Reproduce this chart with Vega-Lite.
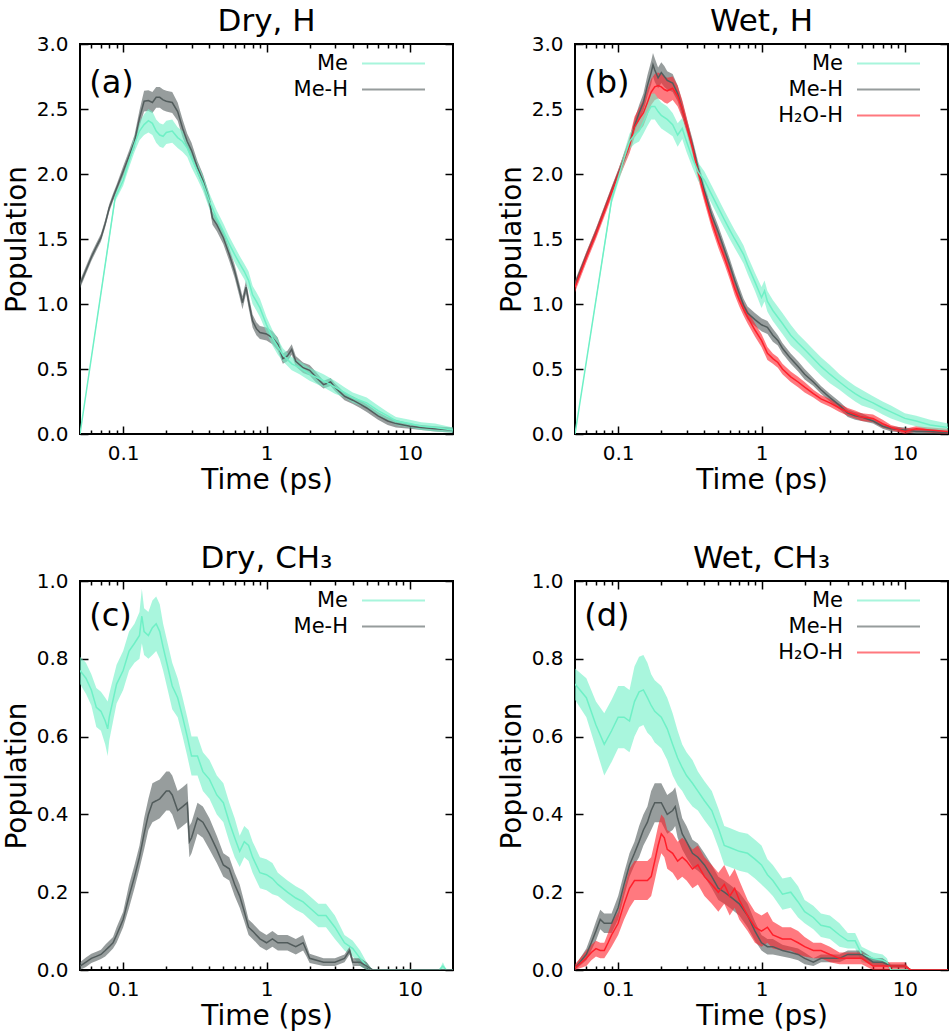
{
  "$schema": "https://vega.github.io/schema/vega-lite/v6.json",
  "padding": {"left": 2, "top": 5, "right": 0, "bottom": 0},
  "config": {
    "font": "DejaVu Sans",
    "view": {"stroke": "black", "strokeWidth": 2},
    "axis": {
      "domain": false, "grid": false, "labelFont": "DejaVu Sans", "labelFontSize": 20, "labelColor": "black",
      "titleFont": "DejaVu Sans", "titleFontSize": 28, "titleFontWeight": "normal", "titleColor": "black",
      "tickColor": "black", "tickWidth": 1.5, "labelOverlap": false, "labelFlush": false
    },
    "title": {"font": "DejaVu Sans", "fontSize": 31, "fontWeight": "normal", "color": "black", "offset": -4},
    "legend": {
      "orient": "top-right", "offset": 8, "padding": 0, "labelFont": "DejaVu Sans", "labelFontSize": 21,
      "labelColor": "black", "symbolType": "M-3,0H3M4.5,0", "symbolSize": 441, "symbolStrokeWidth": 2,
      "labelAlign": "right", "labelOffset": -57, "rowPadding": 4
    }
  },
  "datasets": {
    "pop": [
      {"p":"a","s":"Me-H","t":0.05,"y":1.15,"lo":1.12,"hi":1.18},
      {"p":"a","s":"Me-H","t":0.055,"y":1.26,"lo":1.23,"hi":1.29},
      {"p":"a","s":"Me-H","t":0.06,"y":1.36,"lo":1.33,"hi":1.39},
      {"p":"a","s":"Me-H","t":0.065,"y":1.44,"lo":1.41,"hi":1.47},
      {"p":"a","s":"Me-H","t":0.07,"y":1.51,"lo":1.48,"hi":1.54},
      {"p":"a","s":"Me-H","t":0.075,"y":1.62,"lo":1.59,"hi":1.65},
      {"p":"a","s":"Me-H","t":0.08,"y":1.74,"lo":1.71,"hi":1.77},
      {"p":"a","s":"Me-H","t":0.085,"y":1.82,"lo":1.79,"hi":1.85},
      {"p":"a","s":"Me-H","t":0.09,"y":1.89,"lo":1.86,"hi":1.92},
      {"p":"a","s":"Me-H","t":0.1,"y":2.02,"lo":1.98,"hi":2.06},
      {"p":"a","s":"Me-H","t":0.11,"y":2.14,"lo":2.10,"hi":2.18},
      {"p":"a","s":"Me-H","t":0.12,"y":2.25,"lo":2.20,"hi":2.30},
      {"p":"a","s":"Me-H","t":0.13,"y":2.43,"lo":2.37,"hi":2.49},
      {"p":"a","s":"Me-H","t":0.14,"y":2.56,"lo":2.48,"hi":2.64},
      {"p":"a","s":"Me-H","t":0.15,"y":2.565,"lo":2.485,"hi":2.645},
      {"p":"a","s":"Me-H","t":0.16,"y":2.55,"lo":2.47,"hi":2.63},
      {"p":"a","s":"Me-H","t":0.17,"y":2.59,"lo":2.51,"hi":2.67},
      {"p":"a","s":"Me-H","t":0.18,"y":2.59,"lo":2.51,"hi":2.67},
      {"p":"a","s":"Me-H","t":0.19,"y":2.57,"lo":2.49,"hi":2.65},
      {"p":"a","s":"Me-H","t":0.2,"y":2.56,"lo":2.48,"hi":2.64},
      {"p":"a","s":"Me-H","t":0.22,"y":2.55,"lo":2.47,"hi":2.63},
      {"p":"a","s":"Me-H","t":0.24,"y":2.48,"lo":2.41,"hi":2.55},
      {"p":"a","s":"Me-H","t":0.26,"y":2.35,"lo":2.28,"hi":2.42},
      {"p":"a","s":"Me-H","t":0.28,"y":2.25,"lo":2.19,"hi":2.31},
      {"p":"a","s":"Me-H","t":0.3,"y":2.18,"lo":2.12,"hi":2.24},
      {"p":"a","s":"Me-H","t":0.33,"y":2.05,"lo":2.00,"hi":2.10},
      {"p":"a","s":"Me-H","t":0.36,"y":1.95,"lo":1.90,"hi":2.00},
      {"p":"a","s":"Me-H","t":0.4,"y":1.79,"lo":1.74,"hi":1.84},
      {"p":"a","s":"Me-H","t":0.42,"y":1.66,"lo":1.61,"hi":1.71},
      {"p":"a","s":"Me-H","t":0.45,"y":1.61,"lo":1.56,"hi":1.66},
      {"p":"a","s":"Me-H","t":0.5,"y":1.51,"lo":1.46,"hi":1.56},
      {"p":"a","s":"Me-H","t":0.55,"y":1.38,"lo":1.33,"hi":1.43},
      {"p":"a","s":"Me-H","t":0.6,"y":1.25,"lo":1.20,"hi":1.30},
      {"p":"a","s":"Me-H","t":0.65,"y":1.10,"lo":1.05,"hi":1.15},
      {"p":"a","s":"Me-H","t":0.68,"y":1.01,"lo":0.96,"hi":1.06},
      {"p":"a","s":"Me-H","t":0.72,"y":1.13,"lo":1.08,"hi":1.18},
      {"p":"a","s":"Me-H","t":0.75,"y":1.02,"lo":0.97,"hi":1.07},
      {"p":"a","s":"Me-H","t":0.8,"y":0.87,"lo":0.82,"hi":0.92},
      {"p":"a","s":"Me-H","t":0.85,"y":0.81,"lo":0.76,"hi":0.86},
      {"p":"a","s":"Me-H","t":0.9,"y":0.78,"lo":0.73,"hi":0.83},
      {"p":"a","s":"Me-H","t":1.0,"y":0.77,"lo":0.72,"hi":0.82},
      {"p":"a","s":"Me-H","t":1.1,"y":0.74,"lo":0.69,"hi":0.79},
      {"p":"a","s":"Me-H","t":1.2,"y":0.69,"lo":0.64,"hi":0.74},
      {"p":"a","s":"Me-H","t":1.3,"y":0.58,"lo":0.54,"hi":0.62},
      {"p":"a","s":"Me-H","t":1.4,"y":0.60,"lo":0.56,"hi":0.64},
      {"p":"a","s":"Me-H","t":1.5,"y":0.65,"lo":0.61,"hi":0.69},
      {"p":"a","s":"Me-H","t":1.6,"y":0.56,"lo":0.52,"hi":0.60},
      {"p":"a","s":"Me-H","t":1.8,"y":0.51,"lo":0.47,"hi":0.55},
      {"p":"a","s":"Me-H","t":2.0,"y":0.49,"lo":0.45,"hi":0.53},
      {"p":"a","s":"Me-H","t":2.2,"y":0.44,"lo":0.40,"hi":0.48},
      {"p":"a","s":"Me-H","t":2.5,"y":0.38,"lo":0.35,"hi":0.41},
      {"p":"a","s":"Me-H","t":2.8,"y":0.40,"lo":0.37,"hi":0.43},
      {"p":"a","s":"Me-H","t":3.0,"y":0.36,"lo":0.33,"hi":0.39},
      {"p":"a","s":"Me-H","t":3.5,"y":0.29,"lo":0.26,"hi":0.32},
      {"p":"a","s":"Me-H","t":4.0,"y":0.26,"lo":0.23,"hi":0.29},
      {"p":"a","s":"Me-H","t":4.5,"y":0.23,"lo":0.20,"hi":0.26},
      {"p":"a","s":"Me-H","t":5.0,"y":0.20,"lo":0.17,"hi":0.23},
      {"p":"a","s":"Me-H","t":6.0,"y":0.14,"lo":0.11,"hi":0.17},
      {"p":"a","s":"Me-H","t":7.0,"y":0.10,"lo":0.07,"hi":0.13},
      {"p":"a","s":"Me-H","t":8.0,"y":0.08,"lo":0.05,"hi":0.11},
      {"p":"a","s":"Me-H","t":10,"y":0.06,"lo":0.04,"hi":0.08},
      {"p":"a","s":"Me-H","t":12,"y":0.05,"lo":0.03,"hi":0.07},
      {"p":"a","s":"Me-H","t":15,"y":0.04,"lo":0.02,"hi":0.06},
      {"p":"a","s":"Me-H","t":20,"y":0.03,"lo":0.01,"hi":0.05},

      {"p":"a","s":"Me","t":0.05,"y":0,"lo":0,"hi":0},
      {"p":"a","s":"Me","t":0.088,"y":1.82,"lo":1.79,"hi":1.85},
      {"p":"a","s":"Me","t":0.1,"y":1.95,"lo":1.91,"hi":1.99},
      {"p":"a","s":"Me","t":0.11,"y":2.10,"lo":2.05,"hi":2.15},
      {"p":"a","s":"Me","t":0.12,"y":2.23,"lo":2.17,"hi":2.29},
      {"p":"a","s":"Me","t":0.13,"y":2.33,"lo":2.26,"hi":2.40},
      {"p":"a","s":"Me","t":0.14,"y":2.38,"lo":2.30,"hi":2.46},
      {"p":"a","s":"Me","t":0.15,"y":2.41,"lo":2.32,"hi":2.50},
      {"p":"a","s":"Me","t":0.16,"y":2.39,"lo":2.30,"hi":2.48},
      {"p":"a","s":"Me","t":0.17,"y":2.33,"lo":2.24,"hi":2.42},
      {"p":"a","s":"Me","t":0.18,"y":2.30,"lo":2.21,"hi":2.39},
      {"p":"a","s":"Me","t":0.19,"y":2.29,"lo":2.20,"hi":2.38},
      {"p":"a","s":"Me","t":0.2,"y":2.32,"lo":2.23,"hi":2.41},
      {"p":"a","s":"Me","t":0.22,"y":2.33,"lo":2.24,"hi":2.42},
      {"p":"a","s":"Me","t":0.24,"y":2.28,"lo":2.20,"hi":2.36},
      {"p":"a","s":"Me","t":0.26,"y":2.25,"lo":2.17,"hi":2.33},
      {"p":"a","s":"Me","t":0.28,"y":2.20,"lo":2.13,"hi":2.27},
      {"p":"a","s":"Me","t":0.3,"y":2.12,"lo":2.05,"hi":2.19},
      {"p":"a","s":"Me","t":0.33,"y":2.02,"lo":1.96,"hi":2.08},
      {"p":"a","s":"Me","t":0.36,"y":1.93,"lo":1.87,"hi":1.99},
      {"p":"a","s":"Me","t":0.4,"y":1.79,"lo":1.73,"hi":1.85},
      {"p":"a","s":"Me","t":0.45,"y":1.66,"lo":1.60,"hi":1.72},
      {"p":"a","s":"Me","t":0.5,"y":1.56,"lo":1.50,"hi":1.62},
      {"p":"a","s":"Me","t":0.55,"y":1.46,"lo":1.40,"hi":1.52},
      {"p":"a","s":"Me","t":0.6,"y":1.38,"lo":1.32,"hi":1.44},
      {"p":"a","s":"Me","t":0.65,"y":1.31,"lo":1.25,"hi":1.37},
      {"p":"a","s":"Me","t":0.7,"y":1.25,"lo":1.19,"hi":1.31},
      {"p":"a","s":"Me","t":0.75,"y":1.18,"lo":1.11,"hi":1.25},
      {"p":"a","s":"Me","t":0.8,"y":1.07,"lo":1.00,"hi":1.14},
      {"p":"a","s":"Me","t":0.85,"y":1.02,"lo":0.95,"hi":1.09},
      {"p":"a","s":"Me","t":0.9,"y":0.97,"lo":0.90,"hi":1.04},
      {"p":"a","s":"Me","t":1.0,"y":0.84,"lo":0.78,"hi":0.90},
      {"p":"a","s":"Me","t":1.1,"y":0.74,"lo":0.68,"hi":0.80},
      {"p":"a","s":"Me","t":1.2,"y":0.67,"lo":0.61,"hi":0.73},
      {"p":"a","s":"Me","t":1.3,"y":0.61,"lo":0.56,"hi":0.66},
      {"p":"a","s":"Me","t":1.5,"y":0.54,"lo":0.49,"hi":0.59},
      {"p":"a","s":"Me","t":1.7,"y":0.51,"lo":0.46,"hi":0.56},
      {"p":"a","s":"Me","t":2.0,"y":0.46,"lo":0.41,"hi":0.51},
      {"p":"a","s":"Me","t":2.5,"y":0.41,"lo":0.36,"hi":0.46},
      {"p":"a","s":"Me","t":3.0,"y":0.36,"lo":0.31,"hi":0.41},
      {"p":"a","s":"Me","t":3.5,"y":0.32,"lo":0.28,"hi":0.36},
      {"p":"a","s":"Me","t":4.0,"y":0.28,"lo":0.24,"hi":0.32},
      {"p":"a","s":"Me","t":5.0,"y":0.24,"lo":0.20,"hi":0.28},
      {"p":"a","s":"Me","t":6.0,"y":0.18,"lo":0.14,"hi":0.22},
      {"p":"a","s":"Me","t":7.0,"y":0.14,"lo":0.11,"hi":0.17},
      {"p":"a","s":"Me","t":8.0,"y":0.10,"lo":0.07,"hi":0.13},
      {"p":"a","s":"Me","t":10,"y":0.08,"lo":0.05,"hi":0.11},
      {"p":"a","s":"Me","t":12,"y":0.06,"lo":0.03,"hi":0.09},
      {"p":"a","s":"Me","t":15,"y":0.05,"lo":0.02,"hi":0.08},
      {"p":"a","s":"Me","t":20,"y":0.03,"lo":0.01,"hi":0.05},

      {"p":"b","s":"Me-H","t":0.05,"y":1.15,"lo":1.12,"hi":1.18},
      {"p":"b","s":"Me-H","t":0.06,"y":1.37,"lo":1.34,"hi":1.40},
      {"p":"b","s":"Me-H","t":0.07,"y":1.55,"lo":1.52,"hi":1.58},
      {"p":"b","s":"Me-H","t":0.08,"y":1.72,"lo":1.69,"hi":1.75},
      {"p":"b","s":"Me-H","t":0.09,"y":1.87,"lo":1.84,"hi":1.90},
      {"p":"b","s":"Me-H","t":0.1,"y":2.00,"lo":1.97,"hi":2.03},
      {"p":"b","s":"Me-H","t":0.11,"y":2.12,"lo":2.08,"hi":2.16},
      {"p":"b","s":"Me-H","t":0.12,"y":2.23,"lo":2.19,"hi":2.27},
      {"p":"b","s":"Me-H","t":0.13,"y":2.37,"lo":2.32,"hi":2.42},
      {"p":"b","s":"Me-H","t":0.14,"y":2.47,"lo":2.41,"hi":2.53},
      {"p":"b","s":"Me-H","t":0.15,"y":2.55,"lo":2.48,"hi":2.62},
      {"p":"b","s":"Me-H","t":0.16,"y":2.68,"lo":2.60,"hi":2.76},
      {"p":"b","s":"Me-H","t":0.17,"y":2.78,"lo":2.69,"hi":2.87},
      {"p":"b","s":"Me-H","t":0.175,"y":2.84,"lo":2.75,"hi":2.93},
      {"p":"b","s":"Me-H","t":0.18,"y":2.80,"lo":2.71,"hi":2.89},
      {"p":"b","s":"Me-H","t":0.19,"y":2.74,"lo":2.66,"hi":2.82},
      {"p":"b","s":"Me-H","t":0.2,"y":2.78,"lo":2.70,"hi":2.86},
      {"p":"b","s":"Me-H","t":0.21,"y":2.75,"lo":2.67,"hi":2.83},
      {"p":"b","s":"Me-H","t":0.22,"y":2.72,"lo":2.65,"hi":2.79},
      {"p":"b","s":"Me-H","t":0.24,"y":2.70,"lo":2.63,"hi":2.77},
      {"p":"b","s":"Me-H","t":0.26,"y":2.62,"lo":2.56,"hi":2.68},
      {"p":"b","s":"Me-H","t":0.28,"y":2.50,"lo":2.44,"hi":2.56},
      {"p":"b","s":"Me-H","t":0.3,"y":2.38,"lo":2.33,"hi":2.43},
      {"p":"b","s":"Me-H","t":0.33,"y":2.22,"lo":2.17,"hi":2.27},
      {"p":"b","s":"Me-H","t":0.36,"y":2.05,"lo":2.00,"hi":2.10},
      {"p":"b","s":"Me-H","t":0.4,"y":1.87,"lo":1.82,"hi":1.92},
      {"p":"b","s":"Me-H","t":0.45,"y":1.68,"lo":1.63,"hi":1.73},
      {"p":"b","s":"Me-H","t":0.5,"y":1.55,"lo":1.50,"hi":1.60},
      {"p":"b","s":"Me-H","t":0.55,"y":1.42,"lo":1.37,"hi":1.47},
      {"p":"b","s":"Me-H","t":0.6,"y":1.30,"lo":1.25,"hi":1.35},
      {"p":"b","s":"Me-H","t":0.65,"y":1.18,"lo":1.13,"hi":1.23},
      {"p":"b","s":"Me-H","t":0.7,"y":1.08,"lo":1.03,"hi":1.13},
      {"p":"b","s":"Me-H","t":0.75,"y":0.99,"lo":0.94,"hi":1.04},
      {"p":"b","s":"Me-H","t":0.8,"y":0.93,"lo":0.88,"hi":0.98},
      {"p":"b","s":"Me-H","t":0.9,"y":0.88,"lo":0.83,"hi":0.93},
      {"p":"b","s":"Me-H","t":1.0,"y":0.84,"lo":0.79,"hi":0.89},
      {"p":"b","s":"Me-H","t":1.1,"y":0.82,"lo":0.77,"hi":0.87},
      {"p":"b","s":"Me-H","t":1.2,"y":0.76,"lo":0.71,"hi":0.81},
      {"p":"b","s":"Me-H","t":1.3,"y":0.72,"lo":0.68,"hi":0.76},
      {"p":"b","s":"Me-H","t":1.4,"y":0.66,"lo":0.62,"hi":0.70},
      {"p":"b","s":"Me-H","t":1.6,"y":0.58,"lo":0.54,"hi":0.62},
      {"p":"b","s":"Me-H","t":1.8,"y":0.52,"lo":0.48,"hi":0.56},
      {"p":"b","s":"Me-H","t":2.0,"y":0.46,"lo":0.42,"hi":0.50},
      {"p":"b","s":"Me-H","t":2.3,"y":0.40,"lo":0.37,"hi":0.43},
      {"p":"b","s":"Me-H","t":2.6,"y":0.34,"lo":0.31,"hi":0.37},
      {"p":"b","s":"Me-H","t":3.0,"y":0.28,"lo":0.25,"hi":0.31},
      {"p":"b","s":"Me-H","t":3.5,"y":0.22,"lo":0.19,"hi":0.25},
      {"p":"b","s":"Me-H","t":4.0,"y":0.16,"lo":0.13,"hi":0.19},
      {"p":"b","s":"Me-H","t":4.5,"y":0.14,"lo":0.11,"hi":0.17},
      {"p":"b","s":"Me-H","t":5.0,"y":0.13,"lo":0.10,"hi":0.16},
      {"p":"b","s":"Me-H","t":6.0,"y":0.10,"lo":0.08,"hi":0.12},
      {"p":"b","s":"Me-H","t":7.0,"y":0.06,"lo":0.04,"hi":0.08},
      {"p":"b","s":"Me-H","t":8.0,"y":0.04,"lo":0.02,"hi":0.06},
      {"p":"b","s":"Me-H","t":10,"y":0.03,"lo":0.01,"hi":0.05},
      {"p":"b","s":"Me-H","t":12,"y":0.02,"lo":0.0,"hi":0.04},
      {"p":"b","s":"Me-H","t":15,"y":0.02,"lo":0.0,"hi":0.04},
      {"p":"b","s":"Me-H","t":20,"y":0.01,"lo":0.0,"hi":0.02},

      {"p":"b","s":"H₂O-H","t":0.05,"y":1.13,"lo":1.09,"hi":1.17},
      {"p":"b","s":"H₂O-H","t":0.06,"y":1.36,"lo":1.32,"hi":1.40},
      {"p":"b","s":"H₂O-H","t":0.07,"y":1.54,"lo":1.50,"hi":1.58},
      {"p":"b","s":"H₂O-H","t":0.08,"y":1.71,"lo":1.67,"hi":1.75},
      {"p":"b","s":"H₂O-H","t":0.09,"y":1.86,"lo":1.82,"hi":1.90},
      {"p":"b","s":"H₂O-H","t":0.1,"y":1.99,"lo":1.95,"hi":2.03},
      {"p":"b","s":"H₂O-H","t":0.11,"y":2.11,"lo":2.06,"hi":2.16},
      {"p":"b","s":"H₂O-H","t":0.12,"y":2.22,"lo":2.16,"hi":2.28},
      {"p":"b","s":"H₂O-H","t":0.13,"y":2.36,"lo":2.28,"hi":2.44},
      {"p":"b","s":"H₂O-H","t":0.14,"y":2.42,"lo":2.33,"hi":2.51},
      {"p":"b","s":"H₂O-H","t":0.15,"y":2.47,"lo":2.37,"hi":2.57},
      {"p":"b","s":"H₂O-H","t":0.16,"y":2.55,"lo":2.45,"hi":2.65},
      {"p":"b","s":"H₂O-H","t":0.17,"y":2.63,"lo":2.53,"hi":2.73},
      {"p":"b","s":"H₂O-H","t":0.18,"y":2.67,"lo":2.57,"hi":2.77},
      {"p":"b","s":"H₂O-H","t":0.19,"y":2.68,"lo":2.58,"hi":2.78},
      {"p":"b","s":"H₂O-H","t":0.2,"y":2.67,"lo":2.57,"hi":2.77},
      {"p":"b","s":"H₂O-H","t":0.21,"y":2.65,"lo":2.55,"hi":2.75},
      {"p":"b","s":"H₂O-H","t":0.22,"y":2.64,"lo":2.54,"hi":2.74},
      {"p":"b","s":"H₂O-H","t":0.24,"y":2.66,"lo":2.57,"hi":2.75},
      {"p":"b","s":"H₂O-H","t":0.26,"y":2.60,"lo":2.52,"hi":2.68},
      {"p":"b","s":"H₂O-H","t":0.28,"y":2.50,"lo":2.43,"hi":2.57},
      {"p":"b","s":"H₂O-H","t":0.3,"y":2.38,"lo":2.32,"hi":2.44},
      {"p":"b","s":"H₂O-H","t":0.33,"y":2.20,"lo":2.15,"hi":2.25},
      {"p":"b","s":"H₂O-H","t":0.36,"y":2.02,"lo":1.97,"hi":2.07},
      {"p":"b","s":"H₂O-H","t":0.4,"y":1.83,"lo":1.78,"hi":1.88},
      {"p":"b","s":"H₂O-H","t":0.45,"y":1.63,"lo":1.58,"hi":1.68},
      {"p":"b","s":"H₂O-H","t":0.5,"y":1.48,"lo":1.43,"hi":1.53},
      {"p":"b","s":"H₂O-H","t":0.55,"y":1.36,"lo":1.31,"hi":1.41},
      {"p":"b","s":"H₂O-H","t":0.6,"y":1.24,"lo":1.19,"hi":1.29},
      {"p":"b","s":"H₂O-H","t":0.65,"y":1.12,"lo":1.07,"hi":1.17},
      {"p":"b","s":"H₂O-H","t":0.7,"y":1.03,"lo":0.98,"hi":1.08},
      {"p":"b","s":"H₂O-H","t":0.75,"y":0.96,"lo":0.91,"hi":1.01},
      {"p":"b","s":"H₂O-H","t":0.8,"y":0.90,"lo":0.85,"hi":0.95},
      {"p":"b","s":"H₂O-H","t":0.9,"y":0.80,"lo":0.75,"hi":0.85},
      {"p":"b","s":"H₂O-H","t":1.0,"y":0.72,"lo":0.67,"hi":0.77},
      {"p":"b","s":"H₂O-H","t":1.1,"y":0.62,"lo":0.57,"hi":0.67},
      {"p":"b","s":"H₂O-H","t":1.2,"y":0.58,"lo":0.54,"hi":0.62},
      {"p":"b","s":"H₂O-H","t":1.3,"y":0.55,"lo":0.51,"hi":0.59},
      {"p":"b","s":"H₂O-H","t":1.4,"y":0.50,"lo":0.46,"hi":0.54},
      {"p":"b","s":"H₂O-H","t":1.6,"y":0.44,"lo":0.40,"hi":0.48},
      {"p":"b","s":"H₂O-H","t":1.8,"y":0.40,"lo":0.36,"hi":0.44},
      {"p":"b","s":"H₂O-H","t":2.0,"y":0.36,"lo":0.32,"hi":0.40},
      {"p":"b","s":"H₂O-H","t":2.3,"y":0.31,"lo":0.28,"hi":0.34},
      {"p":"b","s":"H₂O-H","t":2.6,"y":0.27,"lo":0.24,"hi":0.30},
      {"p":"b","s":"H₂O-H","t":3.0,"y":0.24,"lo":0.21,"hi":0.27},
      {"p":"b","s":"H₂O-H","t":3.5,"y":0.20,"lo":0.17,"hi":0.23},
      {"p":"b","s":"H₂O-H","t":4.0,"y":0.17,"lo":0.14,"hi":0.20},
      {"p":"b","s":"H₂O-H","t":4.5,"y":0.15,"lo":0.12,"hi":0.18},
      {"p":"b","s":"H₂O-H","t":5.0,"y":0.13,"lo":0.10,"hi":0.16},
      {"p":"b","s":"H₂O-H","t":6.0,"y":0.12,"lo":0.09,"hi":0.15},
      {"p":"b","s":"H₂O-H","t":7.0,"y":0.08,"lo":0.05,"hi":0.11},
      {"p":"b","s":"H₂O-H","t":8.0,"y":0.05,"lo":0.03,"hi":0.07},
      {"p":"b","s":"H₂O-H","t":10,"y":0.02,"lo":0.0,"hi":0.04},
      {"p":"b","s":"H₂O-H","t":12,"y":0.04,"lo":0.02,"hi":0.06},
      {"p":"b","s":"H₂O-H","t":15,"y":0.03,"lo":0.01,"hi":0.05},
      {"p":"b","s":"H₂O-H","t":20,"y":0.02,"lo":0.0,"hi":0.04},

      {"p":"b","s":"Me","t":0.05,"y":0,"lo":0,"hi":0},
      {"p":"b","s":"Me","t":0.09,"y":1.80,"lo":1.77,"hi":1.83},
      {"p":"b","s":"Me","t":0.1,"y":1.97,"lo":1.93,"hi":2.01},
      {"p":"b","s":"Me","t":0.11,"y":2.12,"lo":2.07,"hi":2.17},
      {"p":"b","s":"Me","t":0.12,"y":2.25,"lo":2.19,"hi":2.31},
      {"p":"b","s":"Me","t":0.13,"y":2.30,"lo":2.23,"hi":2.37},
      {"p":"b","s":"Me","t":0.14,"y":2.33,"lo":2.25,"hi":2.41},
      {"p":"b","s":"Me","t":0.15,"y":2.40,"lo":2.31,"hi":2.49},
      {"p":"b","s":"Me","t":0.16,"y":2.47,"lo":2.37,"hi":2.57},
      {"p":"b","s":"Me","t":0.17,"y":2.52,"lo":2.42,"hi":2.62},
      {"p":"b","s":"Me","t":0.18,"y":2.52,"lo":2.42,"hi":2.62},
      {"p":"b","s":"Me","t":0.19,"y":2.48,"lo":2.38,"hi":2.58},
      {"p":"b","s":"Me","t":0.2,"y":2.45,"lo":2.35,"hi":2.55},
      {"p":"b","s":"Me","t":0.22,"y":2.42,"lo":2.32,"hi":2.52},
      {"p":"b","s":"Me","t":0.24,"y":2.38,"lo":2.29,"hi":2.47},
      {"p":"b","s":"Me","t":0.26,"y":2.30,"lo":2.21,"hi":2.39},
      {"p":"b","s":"Me","t":0.28,"y":2.35,"lo":2.27,"hi":2.43},
      {"p":"b","s":"Me","t":0.3,"y":2.25,"lo":2.17,"hi":2.33},
      {"p":"b","s":"Me","t":0.33,"y":2.12,"lo":2.05,"hi":2.19},
      {"p":"b","s":"Me","t":0.36,"y":2.02,"lo":1.95,"hi":2.09},
      {"p":"b","s":"Me","t":0.4,"y":1.95,"lo":1.88,"hi":2.02},
      {"p":"b","s":"Me","t":0.45,"y":1.84,"lo":1.77,"hi":1.91},
      {"p":"b","s":"Me","t":0.5,"y":1.74,"lo":1.67,"hi":1.81},
      {"p":"b","s":"Me","t":0.55,"y":1.65,"lo":1.58,"hi":1.72},
      {"p":"b","s":"Me","t":0.6,"y":1.57,"lo":1.50,"hi":1.64},
      {"p":"b","s":"Me","t":0.65,"y":1.50,"lo":1.43,"hi":1.57},
      {"p":"b","s":"Me","t":0.7,"y":1.44,"lo":1.37,"hi":1.51},
      {"p":"b","s":"Me","t":0.75,"y":1.38,"lo":1.31,"hi":1.45},
      {"p":"b","s":"Me","t":0.8,"y":1.30,"lo":1.23,"hi":1.37},
      {"p":"b","s":"Me","t":0.9,"y":1.17,"lo":1.10,"hi":1.24},
      {"p":"b","s":"Me","t":1.0,"y":1.05,"lo":0.97,"hi":1.13},
      {"p":"b","s":"Me","t":1.05,"y":1.10,"lo":1.02,"hi":1.18},
      {"p":"b","s":"Me","t":1.1,"y":1.02,"lo":0.94,"hi":1.10},
      {"p":"b","s":"Me","t":1.2,"y":0.95,"lo":0.87,"hi":1.03},
      {"p":"b","s":"Me","t":1.4,"y":0.85,"lo":0.77,"hi":0.93},
      {"p":"b","s":"Me","t":1.6,"y":0.76,"lo":0.68,"hi":0.84},
      {"p":"b","s":"Me","t":1.8,"y":0.70,"lo":0.63,"hi":0.77},
      {"p":"b","s":"Me","t":2.0,"y":0.65,"lo":0.58,"hi":0.72},
      {"p":"b","s":"Me","t":2.3,"y":0.58,"lo":0.51,"hi":0.65},
      {"p":"b","s":"Me","t":2.6,"y":0.52,"lo":0.45,"hi":0.59},
      {"p":"b","s":"Me","t":3.0,"y":0.46,"lo":0.39,"hi":0.53},
      {"p":"b","s":"Me","t":3.5,"y":0.40,"lo":0.34,"hi":0.46},
      {"p":"b","s":"Me","t":4.0,"y":0.35,"lo":0.29,"hi":0.41},
      {"p":"b","s":"Me","t":4.5,"y":0.31,"lo":0.25,"hi":0.37},
      {"p":"b","s":"Me","t":5.0,"y":0.28,"lo":0.22,"hi":0.34},
      {"p":"b","s":"Me","t":6.0,"y":0.24,"lo":0.19,"hi":0.29},
      {"p":"b","s":"Me","t":7.0,"y":0.20,"lo":0.15,"hi":0.25},
      {"p":"b","s":"Me","t":8.0,"y":0.17,"lo":0.12,"hi":0.22},
      {"p":"b","s":"Me","t":10,"y":0.12,"lo":0.08,"hi":0.16},
      {"p":"b","s":"Me","t":12,"y":0.10,"lo":0.06,"hi":0.14},
      {"p":"b","s":"Me","t":15,"y":0.07,"lo":0.03,"hi":0.11},
      {"p":"b","s":"Me","t":20,"y":0.05,"lo":0.02,"hi":0.08},

      {"p":"c","s":"Me","t":0.05,"y":0.77,"lo":0.735,"hi":0.805},
      {"p":"c","s":"Me","t":0.055,"y":0.75,"lo":0.71,"hi":0.79},
      {"p":"c","s":"Me","t":0.06,"y":0.72,"lo":0.68,"hi":0.76},
      {"p":"c","s":"Me","t":0.065,"y":0.675,"lo":0.625,"hi":0.725},
      {"p":"c","s":"Me","t":0.07,"y":0.665,"lo":0.615,"hi":0.715},
      {"p":"c","s":"Me","t":0.075,"y":0.64,"lo":0.58,"hi":0.70},
      {"p":"c","s":"Me","t":0.078,"y":0.62,"lo":0.55,"hi":0.69},
      {"p":"c","s":"Me","t":0.08,"y":0.65,"lo":0.59,"hi":0.71},
      {"p":"c","s":"Me","t":0.09,"y":0.735,"lo":0.685,"hi":0.785},
      {"p":"c","s":"Me","t":0.1,"y":0.77,"lo":0.72,"hi":0.82},
      {"p":"c","s":"Me","t":0.11,"y":0.82,"lo":0.77,"hi":0.87},
      {"p":"c","s":"Me","t":0.12,"y":0.84,"lo":0.79,"hi":0.89},
      {"p":"c","s":"Me","t":0.13,"y":0.86,"lo":0.80,"hi":0.92},
      {"p":"c","s":"Me","t":0.135,"y":0.91,"lo":0.84,"hi":0.98},
      {"p":"c","s":"Me","t":0.14,"y":0.87,"lo":0.81,"hi":0.93},
      {"p":"c","s":"Me","t":0.15,"y":0.86,"lo":0.80,"hi":0.92},
      {"p":"c","s":"Me","t":0.16,"y":0.88,"lo":0.81,"hi":0.95},
      {"p":"c","s":"Me","t":0.17,"y":0.89,"lo":0.82,"hi":0.96},
      {"p":"c","s":"Me","t":0.18,"y":0.87,"lo":0.80,"hi":0.94},
      {"p":"c","s":"Me","t":0.19,"y":0.83,"lo":0.77,"hi":0.89},
      {"p":"c","s":"Me","t":0.2,"y":0.795,"lo":0.735,"hi":0.855},
      {"p":"c","s":"Me","t":0.22,"y":0.73,"lo":0.67,"hi":0.79},
      {"p":"c","s":"Me","t":0.24,"y":0.70,"lo":0.65,"hi":0.75},
      {"p":"c","s":"Me","t":0.26,"y":0.65,"lo":0.60,"hi":0.70},
      {"p":"c","s":"Me","t":0.28,"y":0.60,"lo":0.55,"hi":0.65},
      {"p":"c","s":"Me","t":0.3,"y":0.55,"lo":0.50,"hi":0.60},
      {"p":"c","s":"Me","t":0.33,"y":0.55,"lo":0.50,"hi":0.60},
      {"p":"c","s":"Me","t":0.36,"y":0.51,"lo":0.46,"hi":0.56},
      {"p":"c","s":"Me","t":0.4,"y":0.49,"lo":0.44,"hi":0.54},
      {"p":"c","s":"Me","t":0.45,"y":0.45,"lo":0.40,"hi":0.50},
      {"p":"c","s":"Me","t":0.5,"y":0.43,"lo":0.38,"hi":0.48},
      {"p":"c","s":"Me","t":0.55,"y":0.38,"lo":0.33,"hi":0.43},
      {"p":"c","s":"Me","t":0.6,"y":0.34,"lo":0.29,"hi":0.39},
      {"p":"c","s":"Me","t":0.65,"y":0.305,"lo":0.265,"hi":0.345},
      {"p":"c","s":"Me","t":0.7,"y":0.33,"lo":0.29,"hi":0.37},
      {"p":"c","s":"Me","t":0.75,"y":0.32,"lo":0.28,"hi":0.36},
      {"p":"c","s":"Me","t":0.8,"y":0.29,"lo":0.25,"hi":0.33},
      {"p":"c","s":"Me","t":0.9,"y":0.25,"lo":0.21,"hi":0.29},
      {"p":"c","s":"Me","t":1.0,"y":0.245,"lo":0.205,"hi":0.285},
      {"p":"c","s":"Me","t":1.1,"y":0.235,"lo":0.195,"hi":0.275},
      {"p":"c","s":"Me","t":1.2,"y":0.22,"lo":0.19,"hi":0.25},
      {"p":"c","s":"Me","t":1.4,"y":0.20,"lo":0.17,"hi":0.23},
      {"p":"c","s":"Me","t":1.6,"y":0.185,"lo":0.155,"hi":0.215},
      {"p":"c","s":"Me","t":1.8,"y":0.175,"lo":0.145,"hi":0.205},
      {"p":"c","s":"Me","t":2.0,"y":0.16,"lo":0.13,"hi":0.19},
      {"p":"c","s":"Me","t":2.3,"y":0.14,"lo":0.11,"hi":0.17},
      {"p":"c","s":"Me","t":2.6,"y":0.14,"lo":0.11,"hi":0.17},
      {"p":"c","s":"Me","t":3.0,"y":0.11,"lo":0.08,"hi":0.14},
      {"p":"c","s":"Me","t":3.5,"y":0.07,"lo":0.05,"hi":0.09},
      {"p":"c","s":"Me","t":4.0,"y":0.055,"lo":0.035,"hi":0.075},
      {"p":"c","s":"Me","t":4.5,"y":0.03,"lo":0.01,"hi":0.05},
      {"p":"c","s":"Me","t":5.0,"y":0.01,"lo":0.0,"hi":0.02},
      {"p":"c","s":"Me","t":5.5,"y":0,"lo":0,"hi":0},
      {"p":"c","s":"Me","t":16,"y":0,"lo":0,"hi":0},
      {"p":"c","s":"Me","t":17,"y":0.01,"lo":0,"hi":0.02},
      {"p":"c","s":"Me","t":18,"y":0,"lo":0,"hi":0},
      {"p":"c","s":"Me","t":20,"y":0,"lo":0,"hi":0},

      {"p":"c","s":"Me-H","t":0.05,"y":0.01,"lo":0.0,"hi":0.02},
      {"p":"c","s":"Me-H","t":0.055,"y":0.02,"lo":0.008,"hi":0.032},
      {"p":"c","s":"Me-H","t":0.06,"y":0.03,"lo":0.018,"hi":0.042},
      {"p":"c","s":"Me-H","t":0.065,"y":0.035,"lo":0.023,"hi":0.047},
      {"p":"c","s":"Me-H","t":0.07,"y":0.04,"lo":0.028,"hi":0.052},
      {"p":"c","s":"Me-H","t":0.075,"y":0.05,"lo":0.035,"hi":0.065},
      {"p":"c","s":"Me-H","t":0.08,"y":0.06,"lo":0.045,"hi":0.075},
      {"p":"c","s":"Me-H","t":0.085,"y":0.07,"lo":0.055,"hi":0.085},
      {"p":"c","s":"Me-H","t":0.09,"y":0.09,"lo":0.07,"hi":0.11},
      {"p":"c","s":"Me-H","t":0.1,"y":0.13,"lo":0.11,"hi":0.15},
      {"p":"c","s":"Me-H","t":0.11,"y":0.19,"lo":0.16,"hi":0.22},
      {"p":"c","s":"Me-H","t":0.12,"y":0.24,"lo":0.21,"hi":0.27},
      {"p":"c","s":"Me-H","t":0.13,"y":0.29,"lo":0.26,"hi":0.32},
      {"p":"c","s":"Me-H","t":0.14,"y":0.35,"lo":0.31,"hi":0.39},
      {"p":"c","s":"Me-H","t":0.15,"y":0.40,"lo":0.36,"hi":0.44},
      {"p":"c","s":"Me-H","t":0.16,"y":0.43,"lo":0.38,"hi":0.48},
      {"p":"c","s":"Me-H","t":0.17,"y":0.435,"lo":0.385,"hi":0.485},
      {"p":"c","s":"Me-H","t":0.18,"y":0.44,"lo":0.39,"hi":0.49},
      {"p":"c","s":"Me-H","t":0.2,"y":0.46,"lo":0.41,"hi":0.51},
      {"p":"c","s":"Me-H","t":0.21,"y":0.46,"lo":0.41,"hi":0.51},
      {"p":"c","s":"Me-H","t":0.22,"y":0.45,"lo":0.40,"hi":0.50},
      {"p":"c","s":"Me-H","t":0.24,"y":0.41,"lo":0.36,"hi":0.46},
      {"p":"c","s":"Me-H","t":0.26,"y":0.42,"lo":0.37,"hi":0.47},
      {"p":"c","s":"Me-H","t":0.28,"y":0.43,"lo":0.38,"hi":0.48},
      {"p":"c","s":"Me-H","t":0.29,"y":0.33,"lo":0.29,"hi":0.37},
      {"p":"c","s":"Me-H","t":0.3,"y":0.34,"lo":0.30,"hi":0.38},
      {"p":"c","s":"Me-H","t":0.33,"y":0.39,"lo":0.35,"hi":0.43},
      {"p":"c","s":"Me-H","t":0.36,"y":0.38,"lo":0.34,"hi":0.42},
      {"p":"c","s":"Me-H","t":0.4,"y":0.35,"lo":0.31,"hi":0.39},
      {"p":"c","s":"Me-H","t":0.45,"y":0.31,"lo":0.275,"hi":0.345},
      {"p":"c","s":"Me-H","t":0.5,"y":0.27,"lo":0.24,"hi":0.30},
      {"p":"c","s":"Me-H","t":0.55,"y":0.26,"lo":0.23,"hi":0.29},
      {"p":"c","s":"Me-H","t":0.6,"y":0.22,"lo":0.19,"hi":0.25},
      {"p":"c","s":"Me-H","t":0.65,"y":0.19,"lo":0.16,"hi":0.22},
      {"p":"c","s":"Me-H","t":0.7,"y":0.15,"lo":0.125,"hi":0.175},
      {"p":"c","s":"Me-H","t":0.75,"y":0.11,"lo":0.09,"hi":0.13},
      {"p":"c","s":"Me-H","t":0.8,"y":0.10,"lo":0.08,"hi":0.12},
      {"p":"c","s":"Me-H","t":0.9,"y":0.08,"lo":0.06,"hi":0.10},
      {"p":"c","s":"Me-H","t":1.0,"y":0.07,"lo":0.05,"hi":0.09},
      {"p":"c","s":"Me-H","t":1.1,"y":0.08,"lo":0.06,"hi":0.10},
      {"p":"c","s":"Me-H","t":1.2,"y":0.07,"lo":0.05,"hi":0.09},
      {"p":"c","s":"Me-H","t":1.4,"y":0.07,"lo":0.05,"hi":0.09},
      {"p":"c","s":"Me-H","t":1.6,"y":0.06,"lo":0.04,"hi":0.08},
      {"p":"c","s":"Me-H","t":1.8,"y":0.07,"lo":0.05,"hi":0.09},
      {"p":"c","s":"Me-H","t":1.9,"y":0.05,"lo":0.035,"hi":0.065},
      {"p":"c","s":"Me-H","t":2.0,"y":0.03,"lo":0.018,"hi":0.042},
      {"p":"c","s":"Me-H","t":2.5,"y":0.02,"lo":0.01,"hi":0.03},
      {"p":"c","s":"Me-H","t":3.0,"y":0.02,"lo":0.01,"hi":0.03},
      {"p":"c","s":"Me-H","t":3.5,"y":0.03,"lo":0.02,"hi":0.04},
      {"p":"c","s":"Me-H","t":3.8,"y":0.05,"lo":0.04,"hi":0.06},
      {"p":"c","s":"Me-H","t":4.0,"y":0.02,"lo":0.01,"hi":0.03},
      {"p":"c","s":"Me-H","t":4.5,"y":0.02,"lo":0.01,"hi":0.03},
      {"p":"c","s":"Me-H","t":5.0,"y":0.01,"lo":0.0,"hi":0.02},
      {"p":"c","s":"Me-H","t":5.5,"y":0,"lo":0,"hi":0},
      {"p":"c","s":"Me-H","t":20,"y":0,"lo":0,"hi":0},

      {"p":"d","s":"Me","t":0.05,"y":0.735,"lo":0.695,"hi":0.775},
      {"p":"d","s":"Me","t":0.06,"y":0.70,"lo":0.65,"hi":0.75},
      {"p":"d","s":"Me","t":0.07,"y":0.63,"lo":0.57,"hi":0.69},
      {"p":"d","s":"Me","t":0.08,"y":0.58,"lo":0.50,"hi":0.66},
      {"p":"d","s":"Me","t":0.09,"y":0.615,"lo":0.535,"hi":0.695},
      {"p":"d","s":"Me","t":0.1,"y":0.65,"lo":0.57,"hi":0.73},
      {"p":"d","s":"Me","t":0.11,"y":0.65,"lo":0.57,"hi":0.73},
      {"p":"d","s":"Me","t":0.12,"y":0.64,"lo":0.56,"hi":0.72},
      {"p":"d","s":"Me","t":0.13,"y":0.69,"lo":0.60,"hi":0.78},
      {"p":"d","s":"Me","t":0.14,"y":0.715,"lo":0.625,"hi":0.805},
      {"p":"d","s":"Me","t":0.15,"y":0.72,"lo":0.63,"hi":0.81},
      {"p":"d","s":"Me","t":0.16,"y":0.70,"lo":0.61,"hi":0.79},
      {"p":"d","s":"Me","t":0.17,"y":0.68,"lo":0.60,"hi":0.76},
      {"p":"d","s":"Me","t":0.18,"y":0.665,"lo":0.585,"hi":0.745},
      {"p":"d","s":"Me","t":0.2,"y":0.65,"lo":0.57,"hi":0.73},
      {"p":"d","s":"Me","t":0.22,"y":0.62,"lo":0.54,"hi":0.70},
      {"p":"d","s":"Me","t":0.24,"y":0.58,"lo":0.50,"hi":0.66},
      {"p":"d","s":"Me","t":0.26,"y":0.545,"lo":0.475,"hi":0.615},
      {"p":"d","s":"Me","t":0.28,"y":0.52,"lo":0.46,"hi":0.58},
      {"p":"d","s":"Me","t":0.3,"y":0.50,"lo":0.44,"hi":0.56},
      {"p":"d","s":"Me","t":0.33,"y":0.48,"lo":0.42,"hi":0.54},
      {"p":"d","s":"Me","t":0.36,"y":0.46,"lo":0.41,"hi":0.51},
      {"p":"d","s":"Me","t":0.4,"y":0.435,"lo":0.385,"hi":0.485},
      {"p":"d","s":"Me","t":0.45,"y":0.41,"lo":0.36,"hi":0.46},
      {"p":"d","s":"Me","t":0.5,"y":0.365,"lo":0.315,"hi":0.415},
      {"p":"d","s":"Me","t":0.55,"y":0.32,"lo":0.27,"hi":0.37},
      {"p":"d","s":"Me","t":0.6,"y":0.315,"lo":0.265,"hi":0.365},
      {"p":"d","s":"Me","t":0.7,"y":0.305,"lo":0.255,"hi":0.355},
      {"p":"d","s":"Me","t":0.8,"y":0.30,"lo":0.25,"hi":0.35},
      {"p":"d","s":"Me","t":0.9,"y":0.285,"lo":0.235,"hi":0.335},
      {"p":"d","s":"Me","t":1.0,"y":0.27,"lo":0.22,"hi":0.32},
      {"p":"d","s":"Me","t":1.1,"y":0.245,"lo":0.205,"hi":0.285},
      {"p":"d","s":"Me","t":1.2,"y":0.23,"lo":0.19,"hi":0.27},
      {"p":"d","s":"Me","t":1.4,"y":0.195,"lo":0.155,"hi":0.235},
      {"p":"d","s":"Me","t":1.6,"y":0.20,"lo":0.16,"hi":0.24},
      {"p":"d","s":"Me","t":1.8,"y":0.175,"lo":0.135,"hi":0.215},
      {"p":"d","s":"Me","t":2.0,"y":0.15,"lo":0.12,"hi":0.18},
      {"p":"d","s":"Me","t":2.3,"y":0.135,"lo":0.105,"hi":0.165},
      {"p":"d","s":"Me","t":2.6,"y":0.115,"lo":0.085,"hi":0.145},
      {"p":"d","s":"Me","t":3.0,"y":0.11,"lo":0.08,"hi":0.14},
      {"p":"d","s":"Me","t":3.5,"y":0.09,"lo":0.06,"hi":0.12},
      {"p":"d","s":"Me","t":4.0,"y":0.075,"lo":0.055,"hi":0.095},
      {"p":"d","s":"Me","t":4.5,"y":0.075,"lo":0.055,"hi":0.095},
      {"p":"d","s":"Me","t":5.0,"y":0.04,"lo":0.02,"hi":0.06},
      {"p":"d","s":"Me","t":6.0,"y":0.03,"lo":0.015,"hi":0.045},
      {"p":"d","s":"Me","t":7.0,"y":0.025,"lo":0.01,"hi":0.04},
      {"p":"d","s":"Me","t":7.5,"y":0.02,"lo":0.01,"hi":0.03},
      {"p":"d","s":"Me","t":8.0,"y":0,"lo":0,"hi":0},
      {"p":"d","s":"Me","t":20,"y":0,"lo":0,"hi":0},

      {"p":"d","s":"Me-H","t":0.05,"y":0.005,"lo":0,"hi":0.01},
      {"p":"d","s":"Me-H","t":0.06,"y":0.04,"lo":0.025,"hi":0.055},
      {"p":"d","s":"Me-H","t":0.065,"y":0.07,"lo":0.05,"hi":0.09},
      {"p":"d","s":"Me-H","t":0.07,"y":0.10,"lo":0.075,"hi":0.125},
      {"p":"d","s":"Me-H","t":0.075,"y":0.13,"lo":0.105,"hi":0.155},
      {"p":"d","s":"Me-H","t":0.08,"y":0.12,"lo":0.095,"hi":0.145},
      {"p":"d","s":"Me-H","t":0.09,"y":0.12,"lo":0.095,"hi":0.145},
      {"p":"d","s":"Me-H","t":0.1,"y":0.16,"lo":0.13,"hi":0.19},
      {"p":"d","s":"Me-H","t":0.11,"y":0.22,"lo":0.19,"hi":0.25},
      {"p":"d","s":"Me-H","t":0.12,"y":0.27,"lo":0.24,"hi":0.30},
      {"p":"d","s":"Me-H","t":0.13,"y":0.30,"lo":0.27,"hi":0.33},
      {"p":"d","s":"Me-H","t":0.14,"y":0.33,"lo":0.29,"hi":0.37},
      {"p":"d","s":"Me-H","t":0.15,"y":0.36,"lo":0.32,"hi":0.40},
      {"p":"d","s":"Me-H","t":0.16,"y":0.38,"lo":0.34,"hi":0.42},
      {"p":"d","s":"Me-H","t":0.17,"y":0.41,"lo":0.36,"hi":0.46},
      {"p":"d","s":"Me-H","t":0.18,"y":0.43,"lo":0.38,"hi":0.48},
      {"p":"d","s":"Me-H","t":0.2,"y":0.43,"lo":0.38,"hi":0.48},
      {"p":"d","s":"Me-H","t":0.22,"y":0.40,"lo":0.35,"hi":0.45},
      {"p":"d","s":"Me-H","t":0.24,"y":0.41,"lo":0.36,"hi":0.46},
      {"p":"d","s":"Me-H","t":0.25,"y":0.42,"lo":0.37,"hi":0.47},
      {"p":"d","s":"Me-H","t":0.26,"y":0.39,"lo":0.34,"hi":0.44},
      {"p":"d","s":"Me-H","t":0.28,"y":0.35,"lo":0.31,"hi":0.39},
      {"p":"d","s":"Me-H","t":0.3,"y":0.33,"lo":0.29,"hi":0.37},
      {"p":"d","s":"Me-H","t":0.33,"y":0.30,"lo":0.265,"hi":0.335},
      {"p":"d","s":"Me-H","t":0.36,"y":0.29,"lo":0.255,"hi":0.325},
      {"p":"d","s":"Me-H","t":0.4,"y":0.27,"lo":0.24,"hi":0.30},
      {"p":"d","s":"Me-H","t":0.45,"y":0.24,"lo":0.21,"hi":0.27},
      {"p":"d","s":"Me-H","t":0.5,"y":0.21,"lo":0.18,"hi":0.24},
      {"p":"d","s":"Me-H","t":0.55,"y":0.20,"lo":0.17,"hi":0.23},
      {"p":"d","s":"Me-H","t":0.6,"y":0.19,"lo":0.16,"hi":0.22},
      {"p":"d","s":"Me-H","t":0.7,"y":0.17,"lo":0.14,"hi":0.20},
      {"p":"d","s":"Me-H","t":0.8,"y":0.14,"lo":0.11,"hi":0.17},
      {"p":"d","s":"Me-H","t":0.9,"y":0.10,"lo":0.075,"hi":0.125},
      {"p":"d","s":"Me-H","t":1.0,"y":0.07,"lo":0.05,"hi":0.09},
      {"p":"d","s":"Me-H","t":1.1,"y":0.06,"lo":0.04,"hi":0.08},
      {"p":"d","s":"Me-H","t":1.2,"y":0.06,"lo":0.04,"hi":0.08},
      {"p":"d","s":"Me-H","t":1.4,"y":0.05,"lo":0.035,"hi":0.065},
      {"p":"d","s":"Me-H","t":1.6,"y":0.045,"lo":0.03,"hi":0.06},
      {"p":"d","s":"Me-H","t":1.8,"y":0.04,"lo":0.025,"hi":0.055},
      {"p":"d","s":"Me-H","t":2.0,"y":0.03,"lo":0.015,"hi":0.045},
      {"p":"d","s":"Me-H","t":2.3,"y":0.02,"lo":0.01,"hi":0.03},
      {"p":"d","s":"Me-H","t":2.6,"y":0.03,"lo":0.02,"hi":0.04},
      {"p":"d","s":"Me-H","t":3.0,"y":0.03,"lo":0.02,"hi":0.04},
      {"p":"d","s":"Me-H","t":3.5,"y":0.03,"lo":0.02,"hi":0.04},
      {"p":"d","s":"Me-H","t":4.0,"y":0.04,"lo":0.03,"hi":0.05},
      {"p":"d","s":"Me-H","t":5.0,"y":0.04,"lo":0.03,"hi":0.05},
      {"p":"d","s":"Me-H","t":6.0,"y":0.02,"lo":0.01,"hi":0.03},
      {"p":"d","s":"Me-H","t":7.0,"y":0.02,"lo":0.01,"hi":0.03},
      {"p":"d","s":"Me-H","t":8.0,"y":0.01,"lo":0.005,"hi":0.015},
      {"p":"d","s":"Me-H","t":10,"y":0.01,"lo":0.005,"hi":0.015},
      {"p":"d","s":"Me-H","t":11,"y":0,"lo":0,"hi":0},
      {"p":"d","s":"Me-H","t":20,"y":0,"lo":0,"hi":0},

      {"p":"d","s":"H₂O-H","t":0.05,"y":0.005,"lo":0,"hi":0.015},
      {"p":"d","s":"H₂O-H","t":0.06,"y":0.03,"lo":0.01,"hi":0.05},
      {"p":"d","s":"H₂O-H","t":0.065,"y":0.045,"lo":0.025,"hi":0.065},
      {"p":"d","s":"H₂O-H","t":0.07,"y":0.055,"lo":0.035,"hi":0.075},
      {"p":"d","s":"H₂O-H","t":0.075,"y":0.05,"lo":0.03,"hi":0.07},
      {"p":"d","s":"H₂O-H","t":0.08,"y":0.05,"lo":0.03,"hi":0.07},
      {"p":"d","s":"H₂O-H","t":0.085,"y":0.07,"lo":0.045,"hi":0.095},
      {"p":"d","s":"H₂O-H","t":0.09,"y":0.09,"lo":0.06,"hi":0.12},
      {"p":"d","s":"H₂O-H","t":0.1,"y":0.12,"lo":0.09,"hi":0.15},
      {"p":"d","s":"H₂O-H","t":0.11,"y":0.17,"lo":0.13,"hi":0.21},
      {"p":"d","s":"H₂O-H","t":0.12,"y":0.21,"lo":0.16,"hi":0.26},
      {"p":"d","s":"H₂O-H","t":0.13,"y":0.23,"lo":0.18,"hi":0.28},
      {"p":"d","s":"H₂O-H","t":0.14,"y":0.23,"lo":0.18,"hi":0.28},
      {"p":"d","s":"H₂O-H","t":0.15,"y":0.23,"lo":0.18,"hi":0.28},
      {"p":"d","s":"H₂O-H","t":0.16,"y":0.23,"lo":0.18,"hi":0.28},
      {"p":"d","s":"H₂O-H","t":0.17,"y":0.24,"lo":0.19,"hi":0.29},
      {"p":"d","s":"H₂O-H","t":0.18,"y":0.28,"lo":0.23,"hi":0.33},
      {"p":"d","s":"H₂O-H","t":0.19,"y":0.32,"lo":0.27,"hi":0.37},
      {"p":"d","s":"H₂O-H","t":0.2,"y":0.35,"lo":0.30,"hi":0.40},
      {"p":"d","s":"H₂O-H","t":0.21,"y":0.34,"lo":0.29,"hi":0.39},
      {"p":"d","s":"H₂O-H","t":0.22,"y":0.31,"lo":0.26,"hi":0.36},
      {"p":"d","s":"H₂O-H","t":0.24,"y":0.30,"lo":0.25,"hi":0.35},
      {"p":"d","s":"H₂O-H","t":0.26,"y":0.28,"lo":0.23,"hi":0.33},
      {"p":"d","s":"H₂O-H","t":0.28,"y":0.29,"lo":0.24,"hi":0.34},
      {"p":"d","s":"H₂O-H","t":0.3,"y":0.28,"lo":0.23,"hi":0.33},
      {"p":"d","s":"H₂O-H","t":0.33,"y":0.26,"lo":0.21,"hi":0.31},
      {"p":"d","s":"H₂O-H","t":0.36,"y":0.27,"lo":0.22,"hi":0.32},
      {"p":"d","s":"H₂O-H","t":0.4,"y":0.24,"lo":0.19,"hi":0.29},
      {"p":"d","s":"H₂O-H","t":0.45,"y":0.22,"lo":0.17,"hi":0.27},
      {"p":"d","s":"H₂O-H","t":0.5,"y":0.20,"lo":0.15,"hi":0.25},
      {"p":"d","s":"H₂O-H","t":0.55,"y":0.22,"lo":0.17,"hi":0.27},
      {"p":"d","s":"H₂O-H","t":0.6,"y":0.19,"lo":0.14,"hi":0.24},
      {"p":"d","s":"H₂O-H","t":0.65,"y":0.21,"lo":0.16,"hi":0.26},
      {"p":"d","s":"H₂O-H","t":0.7,"y":0.18,"lo":0.13,"hi":0.23},
      {"p":"d","s":"H₂O-H","t":0.8,"y":0.14,"lo":0.10,"hi":0.18},
      {"p":"d","s":"H₂O-H","t":0.9,"y":0.11,"lo":0.07,"hi":0.15},
      {"p":"d","s":"H₂O-H","t":1.0,"y":0.10,"lo":0.06,"hi":0.14},
      {"p":"d","s":"H₂O-H","t":1.1,"y":0.11,"lo":0.07,"hi":0.15},
      {"p":"d","s":"H₂O-H","t":1.2,"y":0.09,"lo":0.055,"hi":0.125},
      {"p":"d","s":"H₂O-H","t":1.4,"y":0.08,"lo":0.05,"hi":0.11},
      {"p":"d","s":"H₂O-H","t":1.6,"y":0.08,"lo":0.05,"hi":0.11},
      {"p":"d","s":"H₂O-H","t":1.8,"y":0.07,"lo":0.04,"hi":0.10},
      {"p":"d","s":"H₂O-H","t":2.0,"y":0.06,"lo":0.035,"hi":0.085},
      {"p":"d","s":"H₂O-H","t":2.3,"y":0.05,"lo":0.03,"hi":0.07},
      {"p":"d","s":"H₂O-H","t":2.6,"y":0.05,"lo":0.03,"hi":0.07},
      {"p":"d","s":"H₂O-H","t":3.0,"y":0.04,"lo":0.02,"hi":0.06},
      {"p":"d","s":"H₂O-H","t":3.5,"y":0.03,"lo":0.015,"hi":0.045},
      {"p":"d","s":"H₂O-H","t":4.0,"y":0.03,"lo":0.015,"hi":0.045},
      {"p":"d","s":"H₂O-H","t":5.0,"y":0.03,"lo":0.015,"hi":0.045},
      {"p":"d","s":"H₂O-H","t":6.0,"y":0.01,"lo":0,"hi":0.02},
      {"p":"d","s":"H₂O-H","t":7.0,"y":0.01,"lo":0,"hi":0.02},
      {"p":"d","s":"H₂O-H","t":8.0,"y":0.01,"lo":0,"hi":0.02},
      {"p":"d","s":"H₂O-H","t":10,"y":0.01,"lo":0,"hi":0.02},
      {"p":"d","s":"H₂O-H","t":11,"y":0,"lo":0,"hi":0},
      {"p":"d","s":"H₂O-H","t":20,"y":0,"lo":0,"hi":0}
    ]
  },
  "columns": 2,
  "spacing": {"row": 47, "column": 42},
  "resolve": {"scale": {"color": "independent"}, "legend": {"color": "independent"}},
  "concat": [
    {
      "title": "Dry, H",
      "width": 373, "height": 390,
      "data": {"name": "pop"},
      "transform": [{"filter": "datum.p == 'a'"}],
      "resolve": {"axis": {"x": "independent", "y": "independent"}},
      "layer": [
        {
          "mark": {"type": "area", "opacity": 0.6, "clip": true},
          "encoding": {
            "x": {"field": "t", "type": "quantitative", "scale": {"type": "log", "domain": [0.05, 20], "nice": false},
              "axis": {"orient": "bottom", "title": "Time (ps)", "titlePadding": -1, "labelPadding": 17,
                "values": [0.06,0.07,0.08,0.09,0.1,0.2,0.3,0.4,0.5,0.6,0.7,0.8,0.9,1,2,3,4,5,6,7,8,9,10],
                "labelExpr": "datum.value == 0.1 ? '0.1' : datum.value == 1 ? '1' : datum.value == 10 ? '10' : ''",
                "tickSize": {"condition": {"test": "datum.value == 0.1 || datum.value == 1 || datum.value == 10", "value": -8}, "value": -4}}},
            "y": {"field": "lo", "type": "quantitative", "scale": {"domain": [0, 3], "nice": false},
              "axis": {"orient": "left", "title": "Population", "values": [0,0.5,1,1.5,2,2.5,3], "format": ".1f", "tickSize": -8, "labelPadding": 20, "titlePadding": 5}},
            "y2": {"field": "hi"},
            "color": {"field": "s", "type": "nominal", "scale": {"domain": ["Me", "Me-H"], "range": ["#6ff0c6", "#525c5c"]}, "legend": {"title": null}}
          }
        },
        {
          "mark": {"type": "line", "strokeWidth": 1.5, "clip": true},
          "encoding": {
            "x": {"field": "t", "type": "quantitative", "scale": {"type": "log", "domain": [0.05, 20], "nice": false},
              "axis": {"orient": "top", "title": null, "labels": false,
                "values": [0.06,0.07,0.08,0.09,0.1,0.2,0.3,0.4,0.5,0.6,0.7,0.8,0.9,1,2,3,4,5,6,7,8,9,10],
                "tickSize": {"condition": {"test": "datum.value == 0.1 || datum.value == 1 || datum.value == 10", "value": -8}, "value": -4}}},
            "y": {"field": "y", "type": "quantitative", "scale": {"domain": [0, 3], "nice": false},
              "axis": {"orient": "right", "title": null, "labels": false, "values": [0,0.5,1,1.5,2,2.5,3], "tickSize": -8}},
            "color": {"field": "s", "type": "nominal", "scale": {"domain": ["Me", "Me-H"], "range": ["#6ff0c6", "#525c5c"]}, "legend": {"title": null}}
          }
        },
        {
          "data": {"values": [{"lab": "(a)"}]},
          "mark": {"type": "text", "fontSize": 32, "align": "left", "baseline": "middle", "color": "black"},
          "encoding": {
            "x": {"datum": 0.058, "type": "quantitative", "scale": {"type": "log", "domain": [0.05, 20], "nice": false}, "axis": null},
            "y": {"datum": 2.7, "type": "quantitative", "scale": {"domain": [0, 3], "nice": false}, "axis": null},
            "text": {"field": "lab"}
          }
        }
      ]
    },
    {
      "title": "Wet, H",
      "width": 373, "height": 390,
      "data": {"name": "pop"},
      "transform": [{"filter": "datum.p == 'b'"}],
      "resolve": {"axis": {"x": "independent", "y": "independent"}},
      "layer": [
        {
          "mark": {"type": "area", "opacity": 0.6, "clip": true},
          "encoding": {
            "x": {"field": "t", "type": "quantitative", "scale": {"type": "log", "domain": [0.05, 20], "nice": false},
              "axis": {"orient": "bottom", "title": "Time (ps)", "titlePadding": -1, "labelPadding": 17,
                "values": [0.06,0.07,0.08,0.09,0.1,0.2,0.3,0.4,0.5,0.6,0.7,0.8,0.9,1,2,3,4,5,6,7,8,9,10],
                "labelExpr": "datum.value == 0.1 ? '0.1' : datum.value == 1 ? '1' : datum.value == 10 ? '10' : ''",
                "tickSize": {"condition": {"test": "datum.value == 0.1 || datum.value == 1 || datum.value == 10", "value": -8}, "value": -4}}},
            "y": {"field": "lo", "type": "quantitative", "scale": {"domain": [0, 3], "nice": false},
              "axis": {"orient": "left", "title": "Population", "values": [0,0.5,1,1.5,2,2.5,3], "format": ".1f", "tickSize": -8, "labelPadding": 20, "titlePadding": 5}},
            "y2": {"field": "hi"},
            "color": {"field": "s", "type": "nominal", "scale": {"domain": ["Me", "Me-H", "H₂O-H"], "range": ["#6ff0c6", "#525c5c", "#ff1f2a"]}, "legend": {"title": null}}
          }
        },
        {
          "mark": {"type": "line", "strokeWidth": 1.5, "clip": true},
          "encoding": {
            "x": {"field": "t", "type": "quantitative", "scale": {"type": "log", "domain": [0.05, 20], "nice": false},
              "axis": {"orient": "top", "title": null, "labels": false,
                "values": [0.06,0.07,0.08,0.09,0.1,0.2,0.3,0.4,0.5,0.6,0.7,0.8,0.9,1,2,3,4,5,6,7,8,9,10],
                "tickSize": {"condition": {"test": "datum.value == 0.1 || datum.value == 1 || datum.value == 10", "value": -8}, "value": -4}}},
            "y": {"field": "y", "type": "quantitative", "scale": {"domain": [0, 3], "nice": false},
              "axis": {"orient": "right", "title": null, "labels": false, "values": [0,0.5,1,1.5,2,2.5,3], "tickSize": -8}},
            "color": {"field": "s", "type": "nominal", "scale": {"domain": ["Me", "Me-H", "H₂O-H"], "range": ["#6ff0c6", "#525c5c", "#ff1f2a"]}, "legend": {"title": null}}
          }
        },
        {
          "data": {"values": [{"lab": "(b)"}]},
          "mark": {"type": "text", "fontSize": 32, "align": "left", "baseline": "middle", "color": "black"},
          "encoding": {
            "x": {"datum": 0.058, "type": "quantitative", "scale": {"type": "log", "domain": [0.05, 20], "nice": false}, "axis": null},
            "y": {"datum": 2.7, "type": "quantitative", "scale": {"domain": [0, 3], "nice": false}, "axis": null},
            "text": {"field": "lab"}
          }
        }
      ]
    },
    {
      "title": "Dry, CH₃",
      "width": 373, "height": 389,
      "data": {"name": "pop"},
      "transform": [{"filter": "datum.p == 'c'"}],
      "resolve": {"axis": {"x": "independent", "y": "independent"}},
      "layer": [
        {
          "mark": {"type": "area", "opacity": 0.6, "clip": true},
          "encoding": {
            "x": {"field": "t", "type": "quantitative", "scale": {"type": "log", "domain": [0.05, 20], "nice": false},
              "axis": {"orient": "bottom", "title": "Time (ps)", "titlePadding": -1, "labelPadding": 17,
                "values": [0.06,0.07,0.08,0.09,0.1,0.2,0.3,0.4,0.5,0.6,0.7,0.8,0.9,1,2,3,4,5,6,7,8,9,10],
                "labelExpr": "datum.value == 0.1 ? '0.1' : datum.value == 1 ? '1' : datum.value == 10 ? '10' : ''",
                "tickSize": {"condition": {"test": "datum.value == 0.1 || datum.value == 1 || datum.value == 10", "value": -8}, "value": -4}}},
            "y": {"field": "lo", "type": "quantitative", "scale": {"domain": [0, 1], "nice": false},
              "axis": {"orient": "left", "title": "Population", "values": [0,0.2,0.4,0.6,0.8,1], "format": ".1f", "tickSize": -8, "labelPadding": 20, "titlePadding": 5}},
            "y2": {"field": "hi"},
            "color": {"field": "s", "type": "nominal", "scale": {"domain": ["Me", "Me-H"], "range": ["#6ff0c6", "#525c5c"]}, "legend": {"title": null}}
          }
        },
        {
          "mark": {"type": "line", "strokeWidth": 1.5, "clip": true},
          "encoding": {
            "x": {"field": "t", "type": "quantitative", "scale": {"type": "log", "domain": [0.05, 20], "nice": false},
              "axis": {"orient": "top", "title": null, "labels": false,
                "values": [0.06,0.07,0.08,0.09,0.1,0.2,0.3,0.4,0.5,0.6,0.7,0.8,0.9,1,2,3,4,5,6,7,8,9,10],
                "tickSize": {"condition": {"test": "datum.value == 0.1 || datum.value == 1 || datum.value == 10", "value": -8}, "value": -4}}},
            "y": {"field": "y", "type": "quantitative", "scale": {"domain": [0, 1], "nice": false},
              "axis": {"orient": "right", "title": null, "labels": false, "values": [0,0.2,0.4,0.6,0.8,1], "tickSize": -8}},
            "color": {"field": "s", "type": "nominal", "scale": {"domain": ["Me", "Me-H"], "range": ["#6ff0c6", "#525c5c"]}, "legend": {"title": null}}
          }
        },
        {
          "data": {"values": [{"lab": "(c)"}]},
          "mark": {"type": "text", "fontSize": 32, "align": "left", "baseline": "middle", "color": "black"},
          "encoding": {
            "x": {"datum": 0.058, "type": "quantitative", "scale": {"type": "log", "domain": [0.05, 20], "nice": false}, "axis": null},
            "y": {"datum": 0.91, "type": "quantitative", "scale": {"domain": [0, 1], "nice": false}, "axis": null},
            "text": {"field": "lab"}
          }
        }
      ]
    },
    {
      "title": "Wet, CH₃",
      "width": 373, "height": 389,
      "data": {"name": "pop"},
      "transform": [{"filter": "datum.p == 'd'"}],
      "resolve": {"axis": {"x": "independent", "y": "independent"}},
      "layer": [
        {
          "mark": {"type": "area", "opacity": 0.6, "clip": true},
          "encoding": {
            "x": {"field": "t", "type": "quantitative", "scale": {"type": "log", "domain": [0.05, 20], "nice": false},
              "axis": {"orient": "bottom", "title": "Time (ps)", "titlePadding": -1, "labelPadding": 17,
                "values": [0.06,0.07,0.08,0.09,0.1,0.2,0.3,0.4,0.5,0.6,0.7,0.8,0.9,1,2,3,4,5,6,7,8,9,10],
                "labelExpr": "datum.value == 0.1 ? '0.1' : datum.value == 1 ? '1' : datum.value == 10 ? '10' : ''",
                "tickSize": {"condition": {"test": "datum.value == 0.1 || datum.value == 1 || datum.value == 10", "value": -8}, "value": -4}}},
            "y": {"field": "lo", "type": "quantitative", "scale": {"domain": [0, 1], "nice": false},
              "axis": {"orient": "left", "title": "Population", "values": [0,0.2,0.4,0.6,0.8,1], "format": ".1f", "tickSize": -8, "labelPadding": 20, "titlePadding": 5}},
            "y2": {"field": "hi"},
            "color": {"field": "s", "type": "nominal", "scale": {"domain": ["Me", "Me-H", "H₂O-H"], "range": ["#6ff0c6", "#525c5c", "#ff1f2a"]}, "legend": {"title": null}}
          }
        },
        {
          "mark": {"type": "line", "strokeWidth": 1.5, "clip": true},
          "encoding": {
            "x": {"field": "t", "type": "quantitative", "scale": {"type": "log", "domain": [0.05, 20], "nice": false},
              "axis": {"orient": "top", "title": null, "labels": false,
                "values": [0.06,0.07,0.08,0.09,0.1,0.2,0.3,0.4,0.5,0.6,0.7,0.8,0.9,1,2,3,4,5,6,7,8,9,10],
                "tickSize": {"condition": {"test": "datum.value == 0.1 || datum.value == 1 || datum.value == 10", "value": -8}, "value": -4}}},
            "y": {"field": "y", "type": "quantitative", "scale": {"domain": [0, 1], "nice": false},
              "axis": {"orient": "right", "title": null, "labels": false, "values": [0,0.2,0.4,0.6,0.8,1], "tickSize": -8}},
            "color": {"field": "s", "type": "nominal", "scale": {"domain": ["Me", "Me-H", "H₂O-H"], "range": ["#6ff0c6", "#525c5c", "#ff1f2a"]}, "legend": {"title": null}}
          }
        },
        {
          "data": {"values": [{"lab": "(d)"}]},
          "mark": {"type": "text", "fontSize": 32, "align": "left", "baseline": "middle", "color": "black"},
          "encoding": {
            "x": {"datum": 0.058, "type": "quantitative", "scale": {"type": "log", "domain": [0.05, 20], "nice": false}, "axis": null},
            "y": {"datum": 0.91, "type": "quantitative", "scale": {"domain": [0, 1], "nice": false}, "axis": null},
            "text": {"field": "lab"}
          }
        }
      ]
    }
  ]
}
